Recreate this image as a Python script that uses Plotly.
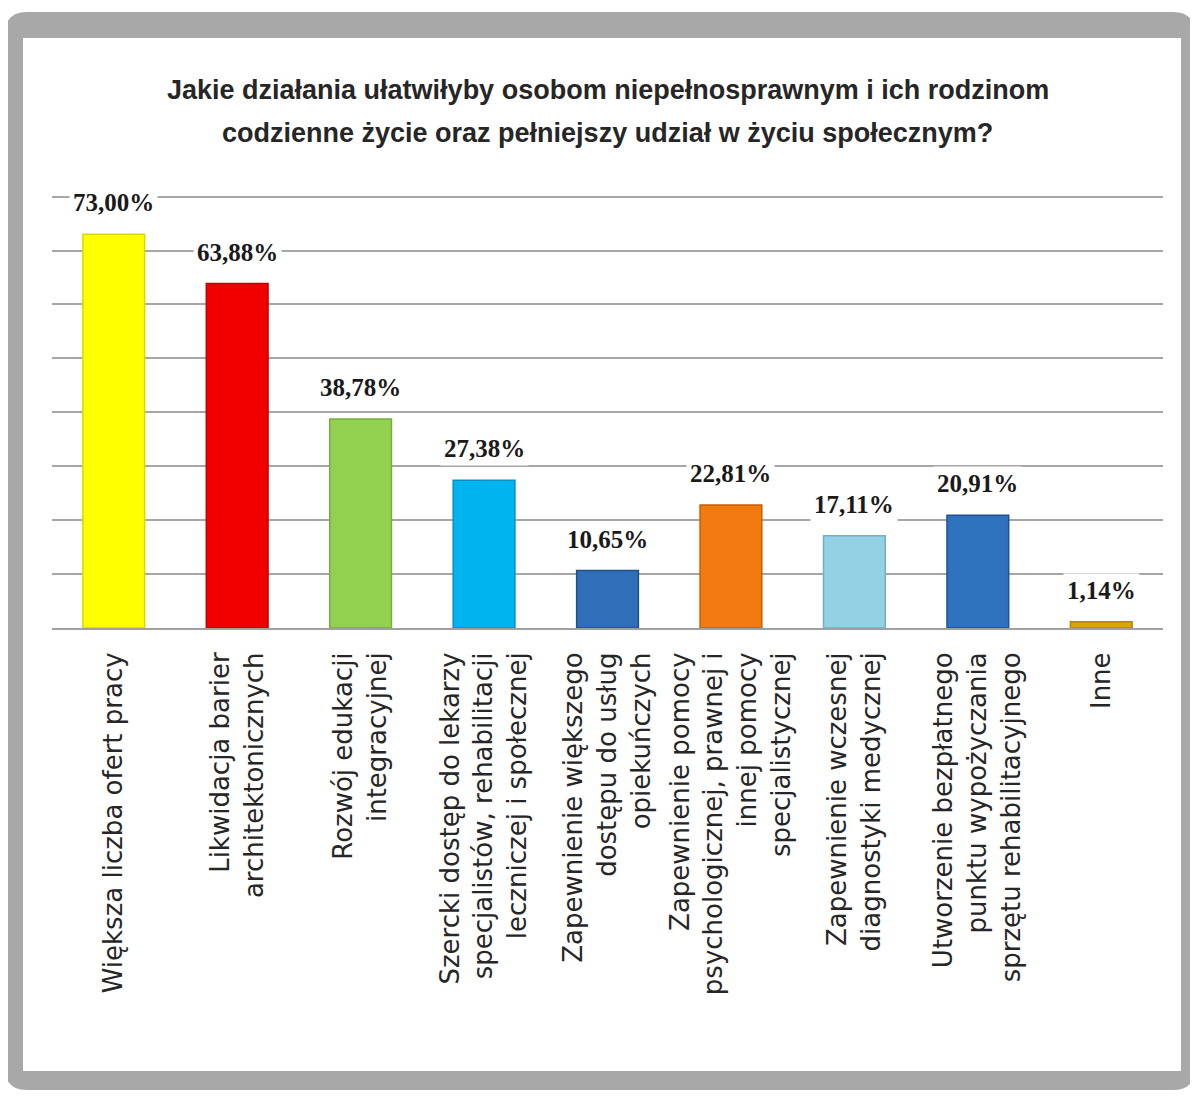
import plotly.graph_objects as go

categories = [
    "Większa liczba ofert pracy",
    "Likwidacja barier<br>architektonicznych",
    "Rozwój edukacji<br>integracyjnej",
    "Szercki dostęp do lekarzy<br>specjalistów, rehabilitacji<br>leczniczej i społecznej",
    "Zapewnienie większego<br>dostępu do usług<br>opiekuńczych",
    "Zapewnienie pomocy<br>psychologicznej, prawnej i<br>innej pomocy<br>specjalistycznej",
    "Zapewnienie wczesnej<br>diagnostyki medycznej",
    "Utworzenie bezpłatnego<br>punktu wypożyczania<br>sprzętu rehabilitacyjnego",
    "Inne",
]
values = [73.00, 63.88, 38.78, 27.38, 10.65, 22.81, 17.11, 20.91, 1.14]
value_labels = ["73,00%", "63,88%", "38,78%", "27,38%", "10,65%", "22,81%", "17,11%", "20,91%", "1,14%"]
colors = ["#FFFF00", "#F20000", "#92D050", "#00B4F0", "#2F6FB8",
          "#F27A10", "#92D2E4", "#2F72BE", "#D8A800"]
line_colors = ["#D8D800", "#C00000", "#76B03A", "#0090C8", "#1F4F8A",
               "#C85E00", "#6FB0C6", "#1F528E", "#B08800"]
title_lines = ["Jakie działania ułatwiłyby osobom niepełnosprawnym i ich rodzinom",
               "codzienne życie oraz pełniejszy udział w życiu społecznym?"]

# page has an 8px body margin; the figure is sized/positioned to compensate
OFF = 8
W, H = 1198 - OFF, 1097 - OFF
L, R, T, B = 52 - OFF, 35, 195 - OFF, 469
PW, PH = W - L - R, H - T - B


def px(x):
    return (x - OFF - L) / PW


def py(y):
    return (H - B - (y - OFF)) / PH


def rounded_rect(x0, y0, x1, y1, r):
    rx, ry = r / PW, r / PH
    a0, a1 = px(x0), px(x1)
    b0, b1 = py(y1), py(y0)
    return (f"M {a0+rx},{b1} L {a1-rx},{b1} Q {a1},{b1} {a1},{b1-ry} "
            f"L {a1},{b0+ry} Q {a1},{b0} {a1-rx},{b0} L {a0+rx},{b0} "
            f"Q {a0},{b0} {a0},{b0+ry} L {a0},{b1-ry} Q {a0},{b1} {a0+rx},{b1} Z")


fig = go.Figure()
fig.add_trace(go.Bar(
    x=categories, y=values, width=0.5,
    marker=dict(color=colors, line=dict(color=line_colors, width=1.5)),
    hoverinfo="skip",
))

for c, v, t in zip(categories, values, value_labels):
    fig.add_annotation(
        x=c, y=v, text=f"<b>{t}</b>", showarrow=False, yanchor="bottom",
        yshift=14, bgcolor="white", borderpad=3,
        font=dict(family="Liberation Serif, Times New Roman, serif", size=25, color="#1a1a1a"),
    )

for line, yc in zip(title_lines, [90, 133]):
    fig.add_annotation(
        xref="paper", yref="paper", x=0.5, y=py(yc), xanchor="center", yanchor="middle",
        text=f"<b>{line}</b>", showarrow=False,
        font=dict(family="Liberation Sans, Arial, sans-serif", size=27, color="#262626"),
    )

shapes = [
    dict(type="path", xref="paper", yref="paper", layer="below",
         path=rounded_rect(5, 12, 1195, 1090, 22),
         fillcolor="#A8A8A8", line=dict(width=0)),
    dict(type="rect", xref="paper", yref="paper", layer="below",
         x0=px(23), x1=px(1181), y0=py(1071), y1=py(38),
         fillcolor="white", line=dict(width=0)),
]

fig.update_layout(
    width=W, height=H,
    margin=dict(l=L, r=R, t=T, b=B, autoexpand=False),
    paper_bgcolor="white", plot_bgcolor="rgba(0,0,0,0)",
    showlegend=False,
    shapes=shapes,
    xaxis=dict(
        type="category", showline=True, linecolor="#A0A0A0", linewidth=2,
        tickangle=-90, ticks="", ticklabelstandoff=12, automargin=False,
        tickfont=dict(family="DejaVu Sans, sans-serif", size=26, color="#262626"),
        showgrid=False,
    ),
    yaxis=dict(
        range=[0, 80.3], tick0=0, dtick=10, showticklabels=False, ticks="",
        showgrid=True, gridcolor="#A6A6A6", gridwidth=2,
        zeroline=False, showline=False, automargin=False,
    ),
)

fig.write_html("out.html")
